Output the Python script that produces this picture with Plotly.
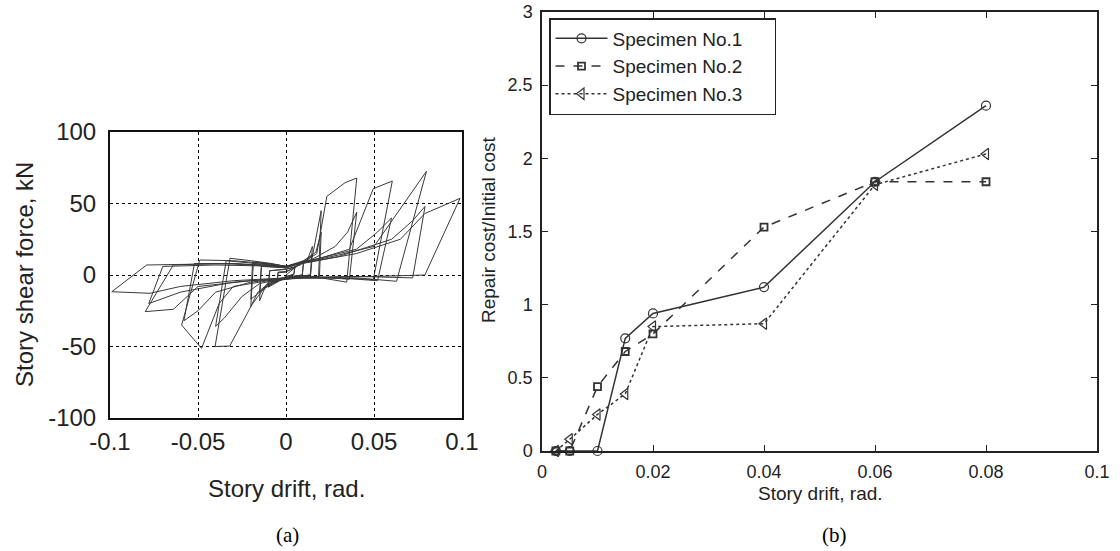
import plotly.graph_objects as go

# ---------------- (a) hysteresis data ----------------
drift_a = [
    0, 0.003, 0.005, 0.0045, 0, -0.003, -0.005, -0.0045, 0,
    0.005, 0.0045, 0, -0.005, -0.0045, 0,
    0.005, 0.01, 0.0092, 0.004, 0, -0.005, -0.01, -0.0092, 0,
    0.005, 0.01, 0.0093, 0, -0.01, -0.0093, 0,
    0.008, 0.012, 0.015, 0.0138, 0.006, 0, -0.008, -0.012, -0.015, -0.014, -0.006, 0,
    0.008, 0.015, 0.014, 0, -0.008, -0.015, -0.014, 0,
    0.01, 0.015, 0.02, 0.0185, 0.01, 0, -0.01, -0.016, -0.02, -0.0185, -0.01, 0,
    0.01, 0.017, 0.02, 0.019, 0, -0.01, -0.02, -0.019, 0,
    0.01, 0.0175, 0.0232, 0.0336, 0.0402, 0.0345, 0.02, 0.005, -0.01, -0.0195, -0.032, -0.0403, -0.0318, -0.02, -0.008, 0,
    0.015, 0.028, 0.035, 0.0402, 0.036, 0.02, 0, -0.015, -0.025, -0.035, -0.040, -0.034, -0.015, 0,
    0.02, 0.036, 0.0496, 0.0604, 0.0496, 0.03, 0.01, -0.01, -0.03, -0.038, -0.048, -0.0593, -0.049, -0.03, -0.01, 0,
    0.02, 0.04, 0.052, 0.060, 0.052, 0.03, 0, -0.02, -0.04, -0.05, -0.058, -0.052, -0.03, 0,
    0.03, 0.05, 0.0798, 0.0628, 0.04, 0.01, -0.02, -0.05, -0.064, -0.080, -0.064, -0.04, -0.01, 0,
    0.03, 0.06, 0.072, 0.079, 0.072, 0.04, 0, -0.03, -0.06, -0.078, -0.07, -0.04, 0,
    0.04, 0.065, 0.0789, 0.0989, 0.0789, 0.05, 0.02, 0, -0.03, -0.06, -0.0773, -0.099, -0.0792, -0.06, -0.03, 0,
]
shear_a = [
    0, 3, 5, 0.5, -1, -2.5, -4, 1.5, 2,
    5.5, 0.5, -1, -4.5, 2, 2.5,
    5, 9, 0, -1, -1.5, -4, -8, 3, 4,
    5.5, 10, 0, -1.5, -8.5, 3, 4,
    7, 10, 20, 0, -1, -2, -5, -9, -18, 6, 6, 5,
    8, 14, 0, -2, -6, -12, 6, 5,
    9, 13, 45, -1, -1, -2, -6, -12, -22, 9, 8, 6,
    10, 16, 30, -1, -2, -7, -17, 9, 6,
    9, 15, 55, 64.6, 67.8, -5, -2, -2, -5, -21, -49.7, -50, 11.7, 10, 8, 6,
    11, 20, 30, 44, -3, -1.5, -2, -6, -15, -30, -36, 10, 8, 6,
    12, 18, 60.4, 65.7, -3.2, -2, -2, -4, -8, -20, -51.3, -35, 10.5, 10, 8, 6,
    12, 18, 30, 40, -4, -2, -2, -5, -12, -25, -32, 8, 8, 6,
    14, 20, 72.5, -4.4, -2, -2, -4, -8, -24, -25.6, 7, 8, 7, 6,
    13, 25, 38, 48, -2, -1, -2, -5, -12, -20, 6, 7, 6,
    15, 25, 43, 53.6, 0, -1, -1.5, -2, -4, -8, -12.8, -11.7, 7, 7.5, 8, 5,
]
a_xticks = [-0.1, -0.05, 0, 0.05, 0.1]
a_xticklabels = ["-0.1", "-0.05", "0", "0.05", "0.1"]
a_yticks = [-100, -50, 0, 50, 100]
a_yticklabels = ["-100", "-50", "0", "50", "100"]

# ---------------- (b) repair cost data ----------------
drift_b = [0.0025, 0.005, 0.01, 0.015, 0.02, 0.04, 0.06, 0.08]
spec1 = [0, 0, 0, 0.77, 0.94, 1.12, 1.84, 2.36]
spec2 = [0, 0, 0.44, 0.68, 0.80, 1.53, 1.84, 1.84]
spec3 = [0, 0.08, 0.25, 0.39, 0.85, 0.87, 1.82, 2.03]
series_names = ["Specimen No.1", "Specimen No.2", "Specimen No.3"]
b_xticks = [0, 0.02, 0.04, 0.06, 0.08, 0.1]
b_xticklabels = ["0", "0.02", "0.04", "0.06", "0.08", "0.1"]
b_yticks = [0, 0.5, 1, 1.5, 2, 2.5, 3]
b_yticklabels = ["0", "0.5", "1", "1.5", "2", "2.5", "3"]

W, H = 1120, 551
FONT = "Liberation Sans, Arial, sans-serif"
INK = "#222222"
PAD = "\u00a0" * 5  # right padding inside the legend box

fig = go.Figure()

fig.add_trace(go.Scatter(
    x=drift_a, y=shear_a, mode="lines",
    line=dict(color="#3a3a3a", width=1), showlegend=False,
    xaxis="x", yaxis="y",
))

fig.add_trace(go.Scatter(
    x=drift_b, y=spec1, mode="lines+markers", name=series_names[0] + PAD,
    line=dict(color="#333333", width=1.5, dash="solid"),
    marker=dict(symbol="circle-open", size=9, color="#333333", line=dict(width=1.2)),
    xaxis="x2", yaxis="y2", cliponaxis=False,
))
fig.add_trace(go.Scatter(
    x=drift_b, y=spec2, mode="lines+markers", name=series_names[1] + PAD,
    line=dict(color="#333333", width=1.5, dash="dash"),
    marker=dict(symbol="square-open", size=7, color="#333333", line=dict(width=1.8)),
    xaxis="x2", yaxis="y2", cliponaxis=False,
))
fig.add_trace(go.Scatter(
    x=drift_b, y=spec3, mode="lines+markers", name=series_names[2] + PAD,
    line=dict(color="#333333", width=1.5, dash="dot"),
    marker=dict(symbol="triangle-left-open", size=10, color="#333333", line=dict(width=1.2)),
    xaxis="x2", yaxis="y2", cliponaxis=False,
))

def px_x(p):
    return p / W

def px_y(p):
    return 1 - p / H

fig.update_layout(
    width=W, height=H,
    margin=dict(l=0, r=0, t=0, b=0, autoexpand=False),
    paper_bgcolor="white", plot_bgcolor="white",
    font=dict(family=FONT, color=INK),
    xaxis=dict(
        domain=[px_x(110), px_x(462)], anchor="y", automargin=False,
        range=[-0.1, 0.1], tickvals=a_xticks, ticktext=a_xticklabels,
        showgrid=True, gridcolor="#000000", griddash="dot", gridwidth=1,
        zeroline=False, showline=True, mirror=True, linecolor="#111111", linewidth=2,
        ticks="", tickfont=dict(size=24, color=INK), ticklabelstandoff=1,
    ),
    yaxis=dict(
        domain=[px_y(418), px_y(132)], anchor="x", automargin=False,
        range=[-100, 100], tickvals=a_yticks, ticktext=a_yticklabels,
        showgrid=True, gridcolor="#000000", griddash="dot", gridwidth=1,
        zeroline=False, showline=True, mirror=True, linecolor="#111111", linewidth=2,
        ticks="", tickfont=dict(size=24, color=INK), ticklabelstandoff=7,
    ),
    xaxis2=dict(
        domain=[px_x(542), px_x(1097)], anchor="y2", automargin=False,
        range=[0, 0.1], tickvals=b_xticks, ticktext=b_xticklabels,
        showgrid=False, zeroline=False, showline=True, mirror="ticks",
        linecolor="#222222", linewidth=1.5,
        ticks="inside", ticklen=6, tickwidth=1.2, tickcolor="#222222",
        tickfont=dict(size=18, color=INK), ticklabelstandoff=4,
    ),
    yaxis2=dict(
        domain=[px_y(451), px_y(12)], anchor="x2", automargin=False,
        range=[0, 3], tickvals=b_yticks, ticktext=b_yticklabels,
        showgrid=False, zeroline=False, showline=True, mirror="ticks",
        linecolor="#222222", linewidth=1.5,
        ticks="inside", ticklen=6, tickwidth=1.2, tickcolor="#222222",
        tickfont=dict(size=18, color=INK), ticklabelstandoff=4,
    ),
    legend=dict(
        x=px_x(549), y=px_y(18), xanchor="left", yanchor="top",
        bgcolor="white", bordercolor="#222222", borderwidth=1.5,
        font=dict(size=19, color=INK), tracegroupgap=0,
        itemwidth=52,
    ),
    annotations=[
        dict(text="Story shear force, kN", x=px_x(24), y=px_y(275), xref="paper", yref="paper",
             textangle=-90, showarrow=False, font=dict(size=24, color=INK), xanchor="center", yanchor="middle"),
        dict(text="Story drift, rad.", x=px_x(286), y=px_y(488), xref="paper", yref="paper",
             showarrow=False, font=dict(size=24, color=INK), xanchor="center", yanchor="middle"),
        dict(text="Repair cost/Initial cost", x=px_x(489), y=px_y(230), xref="paper", yref="paper",
             textangle=-90, showarrow=False, font=dict(size=19, color=INK), xanchor="center", yanchor="middle"),
        dict(text="Story drift, rad.", x=px_x(820), y=px_y(493), xref="paper", yref="paper",
             showarrow=False, font=dict(size=19, color=INK), xanchor="center", yanchor="middle"),
        dict(text="(a)", x=px_x(287), y=px_y(535), xref="paper", yref="paper",
             showarrow=False, font=dict(size=21, color="#000000", family="Liberation Serif, Times New Roman, serif"),
             xanchor="center", yanchor="middle"),
        dict(text="(b)", x=px_x(834), y=px_y(535), xref="paper", yref="paper",
             showarrow=False, font=dict(size=21, color="#000000", family="Liberation Serif, Times New Roman, serif"),
             xanchor="center", yanchor="middle"),
    ],
)

fig.write_html("out.html")
